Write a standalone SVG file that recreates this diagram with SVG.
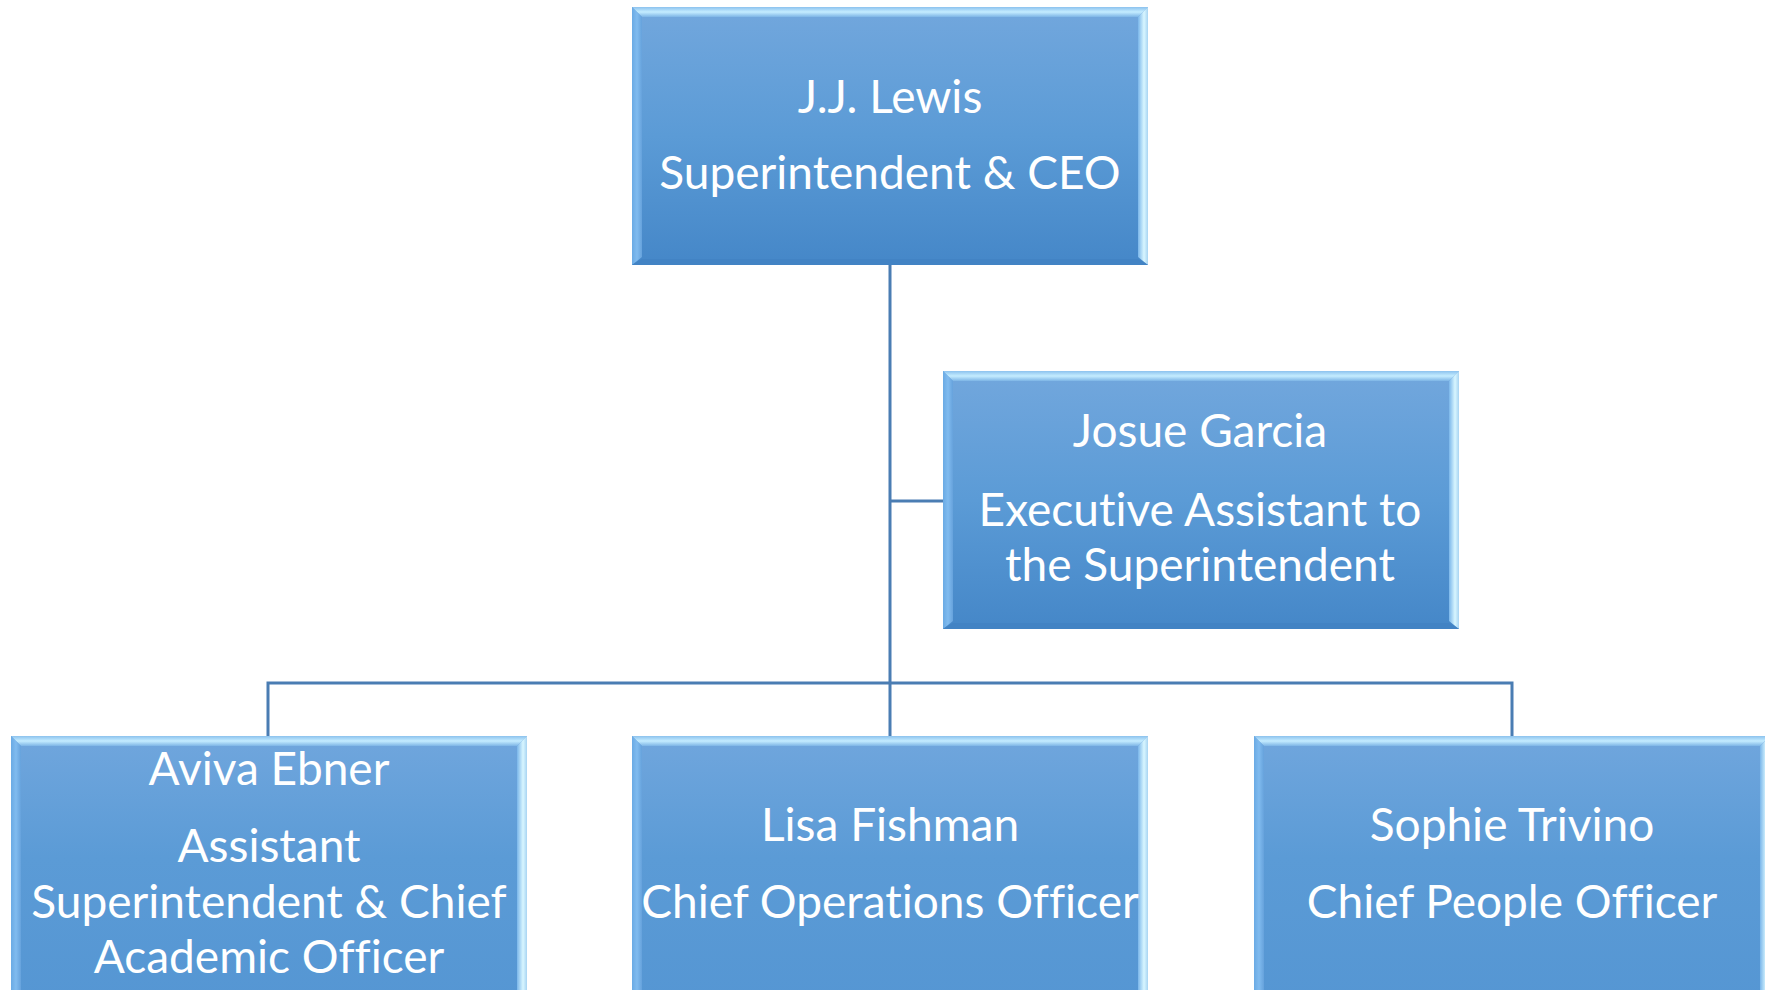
<svg xmlns="http://www.w3.org/2000/svg" width="1765" height="990" viewBox="0 0 1765 990">
<defs>
<linearGradient id="fill" x1="0" y1="0" x2="0" y2="1">
<stop offset="0" stop-color="#72a7dd"/>
<stop offset="0.5" stop-color="#5b9bd6"/>
<stop offset="1" stop-color="#4587c8"/>
</linearGradient>
<linearGradient id="fill2" x1="0" y1="0" x2="0" y2="1">
<stop offset="0" stop-color="#70a6dd"/>
<stop offset="0.45" stop-color="#5b9bd6"/>
<stop offset="1" stop-color="#5596d3"/>
</linearGradient>
<linearGradient id="topb" x1="0" y1="0" x2="0" y2="1">
<stop offset="0" stop-color="#8cc2ee"/>
<stop offset="0.5" stop-color="#c4ecff"/>
<stop offset="1" stop-color="#7db5e6"/>
</linearGradient>
<linearGradient id="rightb" x1="0" y1="0" x2="1" y2="0">
<stop offset="0" stop-color="#7ab6ea"/>
<stop offset="0.6" stop-color="#d8f6ff"/>
<stop offset="1" stop-color="#a8d4f2"/>
</linearGradient>
<linearGradient id="leftb" x1="0" y1="0" x2="1" y2="0">
<stop offset="0" stop-color="#6aaae4"/>
<stop offset="0.5" stop-color="#80bbef"/>
<stop offset="1" stop-color="#66a2dc"/>
</linearGradient>
<g id="box">
<rect x="0" y="0" width="516" height="258" fill="url(#fill)"/>
<polygon points="0,0 516,0 506,10 10,10" fill="url(#topb)"/>
<polygon points="0,0 10,10 10,250 0,258" fill="url(#leftb)"/>
<polygon points="516,0 516,258 506,250 506,10" fill="url(#rightb)"/>
<polygon points="0,258 10,252 506,252 516,258" fill="#4283c4"/>
</g>
<g id="boxb">
<rect x="0" y="0" width="516" height="270" fill="url(#fill2)"/>
<polygon points="0,0 516,0 506,10 10,10" fill="url(#topb)"/>
<polygon points="0,0 10,10 10,270 0,270" fill="url(#leftb)"/>
<polygon points="516,0 516,270 506,270 506,10" fill="url(#rightb)"/>
</g>
</defs>
<style>
.t{font-family:Lato,"Open Sans",sans-serif;font-size:46px;fill:#ffffff;text-anchor:middle;font-variant-ligatures:none}
.c{fill:none;stroke:#4a7db3;stroke-width:3}
</style>
<g id="connectors">
<line class="c" x1="890" y1="265" x2="890" y2="736"/>
<line class="c" x1="890" y1="501" x2="943" y2="501"/>
<polyline class="c" points="268,736 268,683 1512,683 1512,736"/>
</g>
<g id="node-lewis">
<use href="#box" x="632" y="7"/>
<text class="t" x="890" y="113">J.J. Lewis</text>
<text class="t" x="890" y="189">Superintendent &amp; CEO</text>
</g>
<g id="node-garcia">
<use href="#box" x="943" y="371"/>
<text class="t" x="1200" y="447">Josue Garcia</text>
<text class="t" x="1200" y="526">Executive Assistant to</text>
<text class="t" x="1200" y="581">the Superintendent</text>
</g>
<g id="node-ebner">
<use href="#boxb" x="11" y="736"/>
<text class="t" x="269" y="785">Aviva Ebner</text>
<text class="t" x="269" y="862">Assistant</text>
<text class="t" x="269" y="918">Superintendent &amp; Chief</text>
<text class="t" x="269" y="973">Academic Officer</text>
</g>
<g id="node-fishman">
<use href="#boxb" x="632" y="736"/>
<text class="t" x="890" y="841">Lisa Fishman</text>
<text class="t" x="890" y="918">Chief Operations Officer</text>
</g>
<g id="node-trivino">
<use href="#boxb" x="1254" y="736"/>
<text class="t" x="1512" y="841">Sophie Trivino</text>
<text class="t" x="1512" y="918">Chief People Officer</text>
</g>
</svg>
